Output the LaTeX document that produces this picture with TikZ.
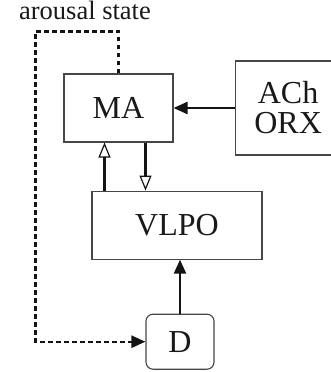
\documentclass[tikz,border=0pt]{standalone}
\usepackage{fontspec}
\setmainfont{Liberation Serif}
\usepackage{tikz}
\usetikzlibrary{arrows.meta, positioning, calc}
\definecolor{boxgray}{RGB}{70,70,70}
\definecolor{textgray}{RGB}{25,25,25}
\definecolor{arrowblack}{RGB}{20,20,20}

\begin{document}
\begin{tikzpicture}[
  x=1pt, y=1pt,
  node distance=48pt and 61pt,
  box/.style={
    draw=boxgray, line width=1.1pt, fill=white,
    inner sep=0pt, align=center, text=textgray,
    font=\fontsize{32}{30}\selectfont
  },
  roundbox/.style={
    box, rounded corners=7pt,
    minimum width=68pt, minimum height=55pt
  },
  note/.style={font=\fontsize{26.5}{28}\selectfont, text=textgray},
  solidarrow/.style={-{Triangle[length=14pt, width=12pt]}, line width=2.4pt, color=arrowblack},
  openarrow/.style={-{Triangle[open, length=15pt, width=12pt, line width=1.2pt]}, line width=2.4pt, color=arrowblack},
  feedback/.style={solidarrow, dash pattern=on 4.5pt off 3.5pt},
]
\useasboundingbox (0,0) rectangle (331,-372);

\node[box, minimum width=109pt, minimum height=68pt] (ma) at (118.5,-108) {MA};
\node[box, minimum width=106pt, minimum height=94pt, right=61pt of ma] (ach) {ACh\\ORX};
\node[box, minimum width=170pt, minimum height=68pt, below=48pt of ma, xshift=58.5pt] (vlpo) {VLPO};
\node[roundbox, below=54pt of vlpo, xshift=3pt] (d) {D};
\node[note, anchor=base] (arousal) at (85,-19.5) {arousal state};

\draw[solidarrow] (ach) -- (ma);
\draw[openarrow] ([xshift=-14pt]ma.south |- vlpo.north) -- ([xshift=-14pt]ma.south);
\draw[openarrow] ([xshift=27pt]ma.south) -- ([xshift=27pt]ma.south |- vlpo.north);
\draw[solidarrow] (d.north) -- (d.north |- vlpo.south);
\draw[feedback] (ma.north) -- ++(0,42) -| ($(d.west)+(-110,0)$) -- (d.west);

\end{tikzpicture}
\end{document}
